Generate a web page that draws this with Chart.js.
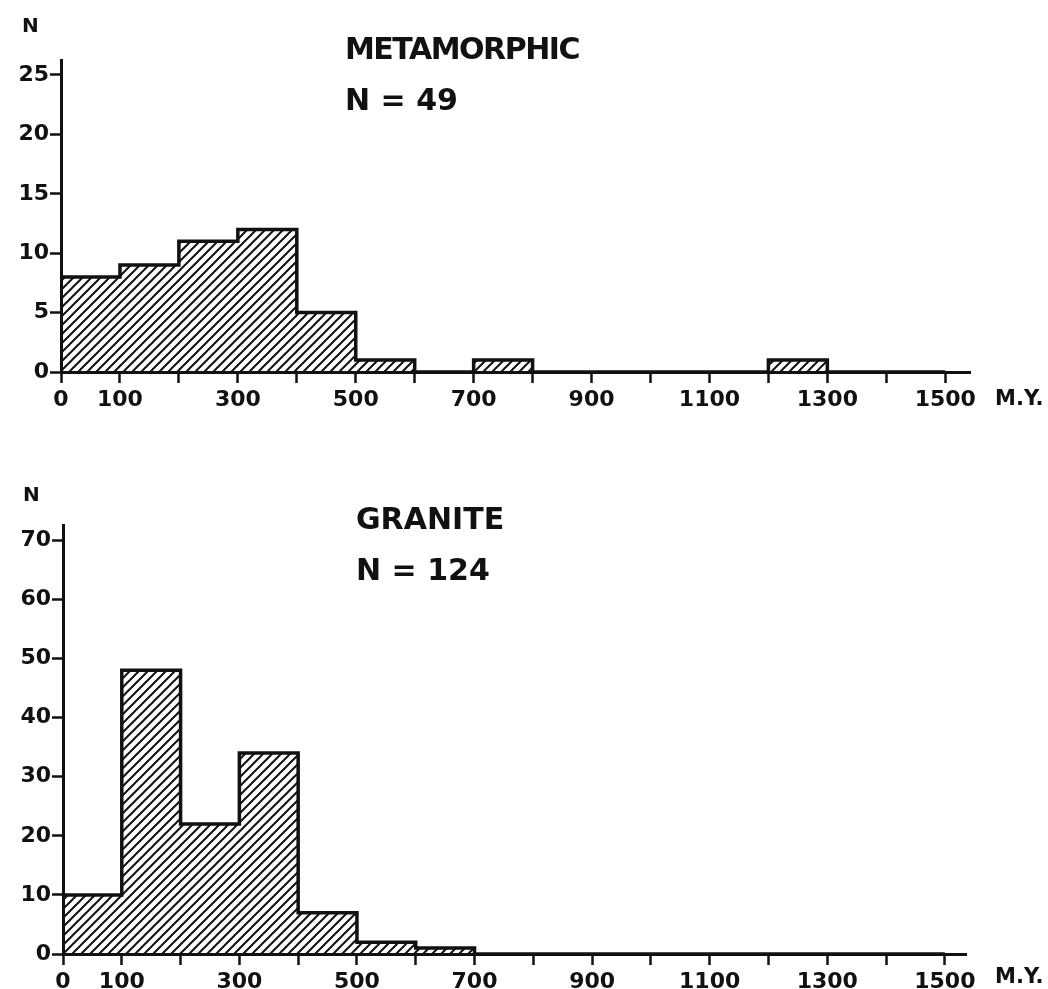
<!DOCTYPE html>
<html>
<head>
<meta charset="utf-8">
<script src="https://cdn.jsdelivr.net/npm/chart.js@4.4.0/dist/chart.umd.min.js"></script>
<style>
  body { margin: 0; background: #fff; }
  #page { position: relative; width: 1048px; height: 989px; overflow: hidden;
          font-family: "DejaVu Sans", sans-serif; font-weight: bold; color: #111; }
  canvas { position: absolute; left: 0; }
  .lbl { position: absolute; line-height: 1; white-space: nowrap; }
</style>
</head>
<body>
<div id="page">
  <canvas id="metaChart" width="1048" height="450" style="top:0"></canvas>
  <canvas id="graniteChart" width="1048" height="539" style="top:450px"></canvas>

  <div class="lbl" style="left:22px;top:15px;font-size:20px">N</div>
  <div class="lbl" style="left:345px;top:34px;font-size:30px;letter-spacing:-1.5px">METAMORPHIC</div>
  <div class="lbl" style="left:345px;top:85px;font-size:30px">N = 49</div>
  <div class="lbl" style="left:995px;top:388px;font-size:21px">M.Y.</div>

  <div class="lbl" style="left:23px;top:484px;font-size:20px">N</div>
  <div class="lbl" style="left:356px;top:504px;font-size:30px">GRANITE</div>
  <div class="lbl" style="left:356px;top:555px;font-size:30px">N = 124</div>
  <div class="lbl" style="left:995px;top:966px;font-size:21px">M.Y.</div>
</div>

<script>
// age bins (M.Y.), 100 wide
const binWidth = 100;
const binStarts = [0, 100, 200, 300, 400, 500, 600, 700, 800, 900, 1000, 1100, 1200, 1300, 1400];

// counts per bin
const metamorphicCounts = [8, 9, 11, 12, 5, 1, 0, 1, 0, 0, 0, 0, 1, 0, 0];
const graniteCounts = [10, 48, 22, 34, 7, 2, 1, 0, 0, 0, 0, 0, 0, 0, 0];

// axis ticks
const xTickValues = [0, 100, 200, 300, 400, 500, 600, 700, 800, 900, 1000, 1100, 1200, 1300, 1400, 1500];
const xTickLabels = ['0', '100', '', '300', '', '500', '', '700', '', '900', '', '1100', '', '1300', '', '1500'];
const metamorphicYTicks = [0, 5, 10, 15, 20, 25];
const graniteYTicks = [0, 10, 20, 30, 40, 50, 60, 70];

const ink = '#111';

// diagonal hatching tile
const tile = document.createElement('canvas');
tile.width = 9;
tile.height = 9;
const tg = tile.getContext('2d');
tg.strokeStyle = ink;
tg.lineWidth = 2;
tg.beginPath();
tg.moveTo(-1, 10); tg.lineTo(10, -1);
tg.moveTo(-1, 1); tg.lineTo(1, -1);
tg.moveTo(8, 10); tg.lineTo(10, 8);
tg.stroke();

const tickFont = { family: 'DejaVu Sans', size: 22, weight: 'bold' };

const makeChart = (id, counts, yTicks, yMax, xMax, area) => {
    const ctx = document.getElementById(id).getContext('2d');

    const bars = binStarts.map((s, i) => ({ x: s + binWidth / 2, y: counts[i] }));
    // stepped outline: one point per bin start, 'before' keeps the previous level until the next edge
    const outline = [{ x: binStarts[0], y: 0 }]
        .concat(binStarts.map((s, i) => ({ x: s, y: counts[i] })))
        .concat([{ x: binStarts[binStarts.length - 1] + binWidth, y: 0 }]);

    return new Chart(ctx, {
        type: 'bar',
        data: {
            datasets: [
                {
                    type: 'line',
                    data: outline,
                    borderColor: ink,
                    borderWidth: 3.5,
                    pointRadius: 0,
                    stepped: 'before',
                    fill: false,
                    order: 0
                },
                {
                    type: 'bar',
                    data: bars,
                    backgroundColor: ctx.createPattern(tile, 'repeat'),
                    borderWidth: 0,
                    barPercentage: 1,
                    categoryPercentage: 1,
                    order: 1
                }
            ]
        },
        options: {
            responsive: false,
            animation: false,
            layout: { padding: { left: 0, top: area.top, right: area.right, bottom: area.bottom } },
            plugins: { legend: { display: false }, tooltip: { enabled: false } },
            scales: {
                x: {
                    type: 'linear',
                    min: 0,
                    max: xMax,
                    offset: false,
                    afterFit: (s) => { s.height = area.xh; },
                    afterBuildTicks: (s) => { s.ticks = xTickValues.map(v => ({ value: v })); },
                    grid: { offset: false, drawOnChartArea: false, drawTicks: true, tickLength: 11, tickWidth: 2.5, tickColor: ink },
                    border: { display: true, color: ink, width: 3 },
                    ticks: {
                        autoSkip: false, maxRotation: 0, padding: 4, color: ink, font: tickFont,
                        callback: (v, i) => xTickLabels[i]
                    }
                },
                y: {
                    min: 0,
                    max: yMax,
                    afterFit: (s) => { s.width = area.left; },
                    afterBuildTicks: (s) => { s.ticks = yTicks.map(v => ({ value: v })); },
                    grid: { drawOnChartArea: false, drawTicks: true, tickLength: 11, tickWidth: 2.5, tickColor: ink },
                    border: { display: true, color: ink, width: 3 },
                    ticks: { padding: 1, color: ink, font: tickFont, callback: (v) => String(v) }
                }
            }
        }
    });
};

makeChart('metaChart', metamorphicCounts, metamorphicYTicks, 26.26, 1542,
    { left: 61, top: 60, right: 78, bottom: 28, xh: 50 });
makeChart('graniteChart', graniteCounts, graniteYTicks, 72.6, 1536,
    { left: 63, top: 75, right: 82, bottom: 0, xh: 35 });
</script>
</body>
</html>
